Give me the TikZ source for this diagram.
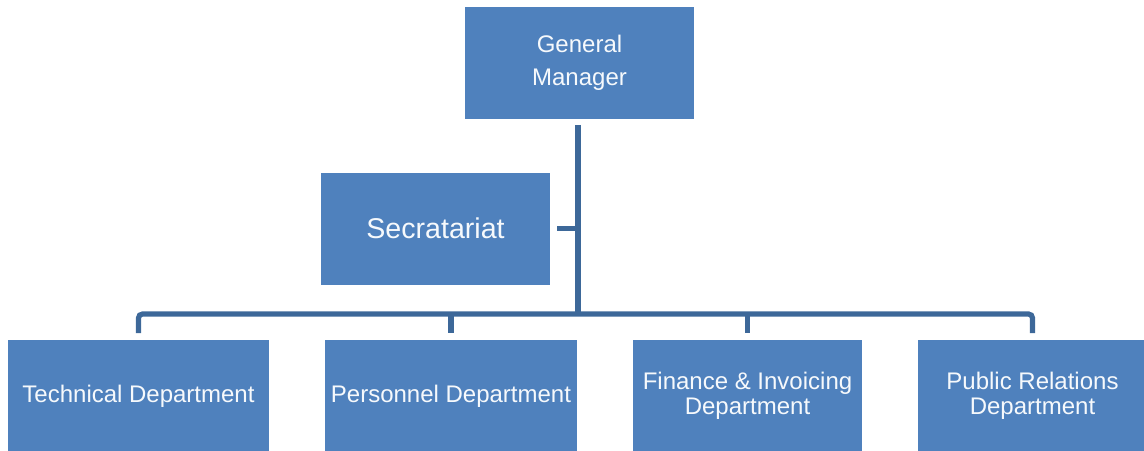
\documentclass[tikz,border=0pt]{standalone}
\usepackage{fontspec}
\setmainfont{Liberation Sans}
\usetikzlibrary{positioning}
\definecolor{boxblue}{RGB}{79,129,189}
\definecolor{lineblue}{RGB}{61,104,153}

\begin{document}
\begin{tikzpicture}[
    x=0.5pt, y=-0.5pt,
    unit/.style={rectangle, fill=boxblue, text=white!95!boxblue, minimum width=114.5pt, minimum height=56pt, inner sep=2pt, align=center, font=\fontsize{12}{12.5}\selectfont},
    link/.style={draw=lineblue, line width=2.6pt}
]
\clip (0,0) rectangle (1144,450);

\node[unit, font=\fontsize{12}{16.5}\selectfont] (gm) at (579.5,62.5) {General\\Manager};
\node[unit, font=\fontsize{14.3}{16}\selectfont] (sec) at (435.5,228.5) {Secratariat};

\node[unit, minimum width=130.5pt] (tech) at (138.5,396) {Technical Department};
\node[unit, minimum width=126pt, right=27.6pt of tech] (pers) {Personnel Department};
\node[unit, right=27.6pt of pers] (fin) {Finance \& Invoicing\\Department};
\node[unit, right=27.6pt of fin] (pr) {Public Relations\\Department};

\coordinate (hub) at (578,314);

\draw[link, shorten <=3pt] (gm.south -| hub) -- (hub);
\draw[link, shorten <=3.5pt] (sec.east) -- (sec.east -| hub);
\draw[link, rounded corners=2pt, shorten <=3.3pt, shorten >=3.3pt] (tech.north) |- (hub) -| (pr.north);
\draw[link, shorten >=3.3pt] (hub -| pers.north) -- (pers.north);
\draw[link, shorten >=3.3pt] (hub -| fin.north) -- (fin.north);

\end{tikzpicture}
\end{document}
